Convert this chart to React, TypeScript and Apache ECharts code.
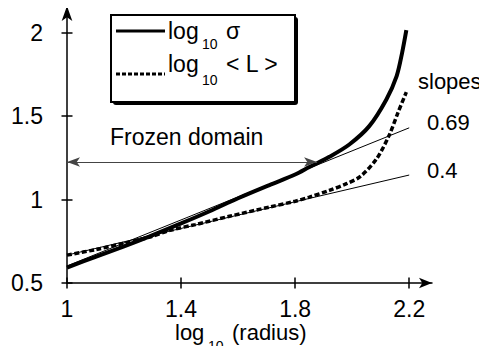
import React, { useEffect, useRef } from "react";
import * as echarts from "echarts";

const xTicks = [1, 1.4, 1.8, 2.2];
const yTicks = [0.5, 1, 1.5, 2];

const sigmaCurve: [number, number][] = [
  [1.0, 0.592], [1.1, 0.657], [1.2, 0.72], [1.29, 0.78], [1.4, 0.857], [1.5, 0.93],
  [1.6, 1.008], [1.71, 1.087], [1.8, 1.15], [1.85, 1.195], [1.92, 1.256], [1.99, 1.33],
  [2.06, 1.44], [2.12, 1.6], [2.156, 1.74], [2.175, 1.878], [2.19, 2.015],
];

const lCurve: [number, number][] = [
  [1.0, 0.667], [1.1, 0.7], [1.2, 0.738], [1.29, 0.775], [1.36, 0.815], [1.45, 0.85],
  [1.57, 0.9], [1.71, 0.955], [1.8, 0.99], [1.85, 1.015], [1.92, 1.055], [1.98, 1.095],
  [2.03, 1.14], [2.086, 1.245], [2.13, 1.386], [2.16, 1.518], [2.19, 1.644],
];

const fit069: [number, number][] = [[1, 0.602], [2.2, 1.43]];
const fit040: [number, number][] = [[1, 0.667], [2.2, 1.147]];

const frozenArrow: [number, number][] = [[1, 1.225], [1.877, 1.225]];

const slopeLabels = ["0.69", "0.4"];

const FONT = '"Liberation Sans", Arial, Helvetica, sans-serif';

export default function App() {
  const ref = useRef<HTMLDivElement>(null);

  useEffect(() => {
    if (!ref.current) return;
    const chart = echarts.init(ref.current, undefined, { renderer: "svg" });

    const gridBox = { left: 67, right: 55, top: 6, bottom: 71 };
    const xRange = { min: 1, max: 2.28 };
    const yRange = { min: 0.5, max: 2.16 };

    const txt = (text: string, x: number, y: number, size: number, lh?: number) => ({
      type: "text",
      x,
      y,
      z: 100,
      style: {
        text,
        fill: "#000",
        fontSize: size,
        fontFamily: FONT,
        lineHeight: lh ?? size,
        textAlign: "left",
        textVerticalAlign: "middle",
      },
    });

    const option: any = {
      animation: false,
      backgroundColor: "#fff",
      grid: [
        { ...gridBox, containLabel: false },
        { ...gridBox, containLabel: false },
      ],
      xAxis: [
        {
          type: "value",
          gridIndex: 0,
          ...xRange,
          axisLine: {
            show: true,
            onZero: false,
            symbol: ["none", "arrow"],
            symbolSize: [8, 13],
            lineStyle: { color: "#000", width: 1.5 },
          },
          axisTick: {
            show: true,
            inside: false,
            length: 5.5,
            customValues: xTicks,
            lineStyle: { color: "#000", width: 1.5 },
          },
          axisLabel: {
            show: true,
            customValues: xTicks,
            margin: 17,
            color: "#000",
            fontSize: 23,
            lineHeight: 17,
            fontFamily: FONT,
            formatter: (v: number) => String(v),
          },
          splitLine: { show: false },
        },
        {
          type: "value",
          gridIndex: 1,
          ...xRange,
          axisLine: { show: false, onZero: false },
          axisTick: {
            show: true,
            inside: true,
            length: 5.5,
            customValues: xTicks,
            lineStyle: { color: "#000", width: 1.5 },
          },
          axisLabel: { show: false },
          splitLine: { show: false },
        },
      ],
      yAxis: [
        {
          type: "value",
          gridIndex: 0,
          ...yRange,
          axisLine: {
            show: true,
            onZero: false,
            symbol: ["none", "arrow"],
            symbolSize: [8, 15],
            lineStyle: { color: "#000", width: 1.5 },
          },
          axisTick: {
            show: true,
            inside: false,
            length: 5.5,
            customValues: yTicks,
            lineStyle: { color: "#000", width: 1.5 },
          },
          axisLabel: {
            show: true,
            customValues: yTicks,
            margin: 24,
            color: "#000",
            fontSize: 23,
            fontFamily: FONT,
            formatter: (v: number) => String(v),
          },
          splitLine: { show: false },
        },
        {
          type: "value",
          gridIndex: 1,
          ...yRange,
          axisLine: { show: false, onZero: false },
          axisTick: {
            show: true,
            inside: true,
            length: 5.5,
            customValues: yTicks,
            lineStyle: { color: "#000", width: 1.5 },
          },
          axisLabel: { show: false },
          splitLine: { show: false },
        },
      ],
      series: [
        {
          name: "fit 0.69",
          type: "line",
          data: fit069,
          showSymbol: false,
          symbol: "none",
          lineStyle: { color: "#000", width: 1 },
          z: 1,
        },
        {
          name: "fit 0.4",
          type: "line",
          data: fit040,
          showSymbol: false,
          symbol: "none",
          lineStyle: { color: "#000", width: 1 },
          z: 1,
        },
        {
          name: "log10 <L>",
          type: "line",
          data: lCurve,
          smooth: 0.3,
          showSymbol: false,
          symbol: "none",
          lineStyle: { color: "#000", width: 3.5, type: [5, 2.5] },
          z: 3,
        },
        {
          name: "log10 sigma",
          type: "line",
          data: sigmaCurve,
          smooth: 0.3,
          showSymbol: false,
          symbol: "none",
          lineStyle: { color: "#000", width: 4 },
          z: 4,
        },
        {
          name: "frozen",
          type: "line",
          data: frozenArrow,
          showSymbol: false,
          symbol: "none",
          lineStyle: { opacity: 0 },
          z: 2,
          markLine: {
            silent: true,
            symbol: ["arrow", "arrow"],
            symbolSize: [7, 13],
            label: { show: false },
            lineStyle: { color: "#444", width: 1, type: "solid" },
            data: [[{ coord: frozenArrow[0] }, { coord: frozenArrow[1] }]],
          },
        },
      ],
      graphic: [
        {
          type: "rect",
          z: 90,
          shape: { x: 113, y: 17, width: 185, height: 88, r: 3 },
          style: { fill: "#000" },
        },
        {
          type: "rect",
          z: 91,
          shape: { x: 111, y: 15, width: 184, height: 87 },
          style: { fill: "#fff", stroke: "#000", lineWidth: 2 },
        },
        {
          type: "line",
          z: 95,
          shape: { x1: 116, y1: 31, x2: 165, y2: 31 },
          style: { stroke: "#000", lineWidth: 3 },
        },
        {
          type: "line",
          z: 95,
          shape: { x1: 116, y1: 74, x2: 165, y2: 74 },
          style: { stroke: "#000", lineWidth: 3, lineDash: [4, 2] },
        },
        txt("log", 168, 31, 23),
        txt("10", 202, 44, 14, 12),
        txt("σ", 226, 31, 23),
        txt("log", 168, 64, 23),
        txt("10", 202, 80, 14, 12),
        txt("< L >", 226, 64, 23),
        txt("Frozen domain", 110, 137, 23),
        txt("slopes", 418, 81, 22),
        txt(slopeLabels[0], 427, 122, 22),
        txt(slopeLabels[1], 427, 170, 22),
        txt("log", 175, 332, 22, 18),
        txt("10", 208, 346, 14, 12),
        txt("(radius)", 232, 332, 22, 18),
      ],
    };

    chart.setOption(option);
    return () => chart.dispose();
  }, []);

  return <div ref={ref} style={{ width: 487, height: 354, margin: -8 }} />;
}
